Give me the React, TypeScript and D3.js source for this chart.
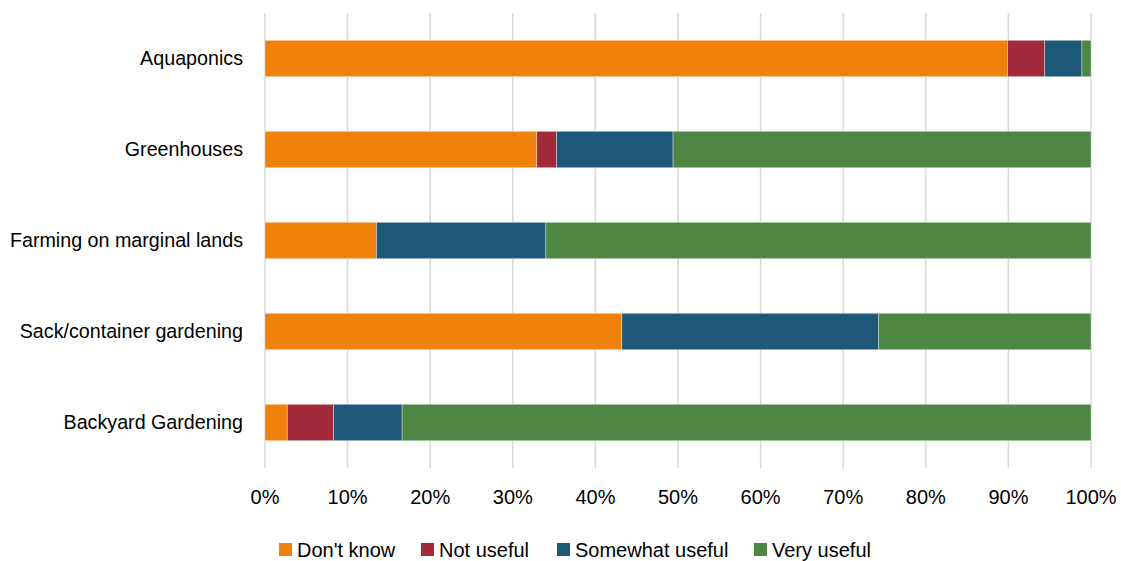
import React from "react";
import * as d3 from "d3";

// Survey: perceived usefulness of growing methods (percent of respondents)
const categories = [
  "Aquaponics",
  "Greenhouses",
  "Farming on marginal lands",
  "Sack/container gardening",
  "Backyard Gardening",
];
const seriesNames = ["Don't know", "Not useful", "Somewhat useful", "Very useful"];
const dontKnow = [89.9, 32.9, 13.5, 43.2, 2.7];
const notUseful = [4.5, 2.4, 0, 0, 5.6];
const somewhatUseful = [4.5, 14.1, 20.5, 31.1, 8.3];
const veryUseful = [1.1, 50.6, 66.0, 25.7, 83.4];
const xTicks = [0, 10, 20, 30, 40, 50, 60, 70, 80, 90, 100];
const colors = ["#F0810A", "#A12A3B", "#1E5878", "#4E8743"];

const W = 1121;
const H = 561;
const margin = { left: 265, right: 30, top: 13, bottom: 93 };
const FONT = "'Liberation Sans', Arial, sans-serif";
const FS = 20;
const FS_CAT = 19.7;

export default function App() {
  const x = d3
    .scaleLinear()
    .domain([0, 100])
    .range([margin.left, W - margin.right]);
  const y = d3
    .scaleBand()
    .domain(categories)
    .range([margin.top, H - margin.bottom])
    .paddingInner(0.6)
    .paddingOuter(0.3);

  const rows = categories.map((c, i) => ({
    category: c,
    "Don't know": dontKnow[i],
    "Not useful": notUseful[i],
    "Somewhat useful": somewhatUseful[i],
    "Very useful": veryUseful[i],
  }));
  const stacked = d3.stack<any>().keys(seriesNames)(rows);

  const legendX = [279, 421, 557, 754];

  return (
    <svg
      width={W}
      height={H}
      style={{ position: "absolute", left: 0, top: 0, background: "#fff" }}
      fontFamily={FONT}
    >
      {/* vertical gridlines */}
      {xTicks.map((t) => (
        <line
          key={t}
          x1={x(t)}
          x2={x(t)}
          y1={margin.top}
          y2={H - margin.bottom}
          stroke="#d9d9d9"
          strokeWidth={1.5}
        />
      ))}
      {/* stacked bars */}
      {stacked.map((s, si) => (
        <g key={s.key} fill={colors[si]}>
          {s.map((d, i) =>
            d[1] - d[0] > 0 ? (
              <rect
                key={i}
                x={x(d[0])}
                y={y(categories[i])!}
                width={x(d[1]) - x(d[0])}
                height={y.bandwidth()}
                stroke="rgba(255,255,255,0.45)"
                strokeWidth={0.8}
              />
            ) : null
          )}
        </g>
      ))}
      {/* category labels */}
      {categories.map((c) => (
        <text
          key={c}
          x={243}
          y={y(c)! + y.bandwidth() / 2}
          dy="0.35em"
          textAnchor="end"
          fontSize={FS_CAT}
          fill="#000"
        >
          {c}
        </text>
      ))}
      {/* x tick labels */}
      {xTicks.map((t) => (
        <text
          key={t}
          x={x(t)}
          y={504}
          textAnchor="middle"
          fontSize={FS}
          fill="#000"
        >
          {t}%
        </text>
      ))}
      {/* legend */}
      {seriesNames.map((n, i) => (
        <g key={n}>
          <rect x={legendX[i]} y={543} width={13} height={13} fill={colors[i]} />
          <text x={legendX[i] + 18} y={549.5} dy="0.35em" fontSize={FS} fill="#000">
            {n}
          </text>
        </g>
      ))}
    </svg>
  );
}
